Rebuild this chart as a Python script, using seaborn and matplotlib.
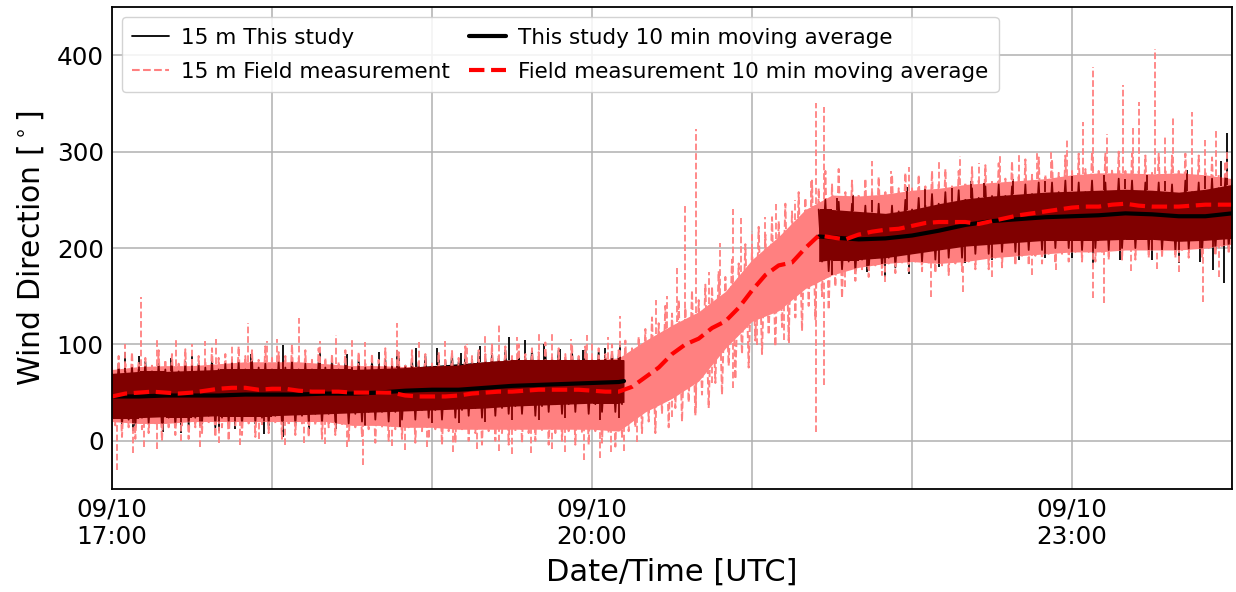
import numpy as np
import pandas as pd
import matplotlib
matplotlib.use("Agg")
import matplotlib.pyplot as plt
import seaborn as sns
from matplotlib.lines import Line2D

# ---------------- data (time in minutes after 09/10 17:00 UTC) ----------------
# 10-min moving averages
field_ma_t = list(range(0, 425, 5))
field_ma = [46, 49, 50, 51, 50, 49, 50, 52, 54, 55,
            55, 53, 54, 54, 52, 51, 51, 51, 50, 50,
            50, 50, 47, 46, 46, 46, 47, 49, 50, 51,
            51, 52, 53, 53, 53, 53, 52, 51, 51, 56,
            66, 76, 90, 100, 106, 117, 124, 138, 156, 172,
            182, 185, 200, 213, 211, 209, 214, 217, 219, 220,
            223, 226, 227, 227, 227, 225, 228, 231, 234, 236,
            238, 240, 242, 243, 243, 245, 246, 244, 243, 243,
            243, 244, 245, 245, 245]

study_t1 = [0, 10, 20, 30, 40, 50, 60, 70, 80, 90, 100, 110, 120, 130, 140,
            150, 160, 170, 180, 190, 192]
study_ma1 = [46, 46, 47, 47, 47, 48, 48, 48, 49, 49, 50, 52, 53, 53, 55,
             57, 58, 59, 60, 61, 62]
study_t2 = [265, 270, 280, 290, 300, 310, 320, 330, 340, 350, 360, 370, 380,
            390, 400, 410, 420]
study_ma2 = [212, 211, 209, 210, 213, 218, 224, 228, 230, 232, 233, 234, 236,
             235, 233, 233, 236]

# raw 15 m field measurement: dense core (every 10 min)
field_core_t = list(range(0, 425, 10))
field_core_up = [74, 77, 78, 78, 80, 82, 82, 82, 80, 78, 78, 77, 77, 78, 82,
                 84, 84, 84, 84, 86, 104, 120, 134, 155, 188, 212, 240, 255,
                 254, 256, 260, 262, 266, 268, 270, 272, 276, 278, 278, 277,
                 278, 276, 272]
field_core_lo = [20, 18, 18, 20, 20, 20, 20, 20, 20, 16, 16, 14, 14, 12, 12,
                 12, 12, 12, 12, 10, 30, 44, 62, 96, 124, 135, 158, 172, 180,
                 184, 186, 184, 186, 190, 192, 194, 196, 196, 198, 198, 198,
                 200, 204]
# raw field measurement peaks (every 2.5 min) and troughs (1.25 min later)
field_zz_t = list(np.arange(0, 420.1, 2.5))
field_peak = [76, 88, 80, 92, 82, 86, 78, 94, 84, 90,
              80, 95, 84, 88, 82, 96, 86, 90, 84, 98,
              88, 94, 84, 98, 86, 92, 88, 100, 86, 94,
              84, 96, 86, 90, 82, 94, 84, 92, 80, 90,
              84, 96, 86, 92, 80, 94, 82, 90, 80, 92,
              84, 94, 86, 98, 88, 94, 90, 100, 88, 98,
              88, 100, 90, 96, 92, 102, 88, 96, 90, 100,
              88, 98, 86, 96, 90, 100, 94, 104, 96, 108,
              116, 128, 122, 140, 132, 146, 138, 156, 146, 162,
              160, 176, 170, 188, 184, 204, 200, 222, 214, 232,
              228, 246, 238, 258, 252, 270, 262, 280, 266, 282,
              258, 270, 256, 272, 260, 274, 258, 276, 262, 278,
              262, 276, 264, 280, 266, 282, 266, 280, 268, 284,
              270, 286, 270, 288, 272, 290, 274, 292, 276, 294,
              276, 292, 278, 296, 280, 298, 282, 300, 280, 298,
              282, 300, 280, 298, 280, 296, 278, 298, 280, 296,
              280, 298, 278, 296, 278, 294, 276, 290, 274]
field_trough = [16, 4, 14, 2, 12, 8, 16, 0, 14, 6,
                16, 2, 14, 8, 18, 4, 14, 0, 16, 6,
                18, 4, 16, 8, 18, 2, 16, 6, 18, 4,
                16, 2, 14, 6, 16, 0, 14, 4, 12, -2,
                14, 0, 12, 2, 14, -2, 10, 2, 12, -4,
                10, -2, 12, 0, 8, -4, 10, 0, 8, -4,
                10, -2, 8, 0, 10, -4, 8, 0, 10, -4,
                8, -4, 10, -2, 8, -6, 4, 10, 14, 8,
                20, 8, 28, 14, 34, 20, 40, 26, 48, 34,
                60, 48, 78, 64, 90, 76, 104, 90, 110, 98,
                118, 104, 128, 114, 140, 126, 150, 136, 160, 148,
                176, 166, 178, 170, 182, 172, 184, 174, 184, 176,
                186, 176, 184, 174, 182, 172, 184, 176, 186, 178,
                188, 178, 190, 180, 192, 182, 192, 182, 192, 184,
                194, 184, 194, 186, 196, 186, 196, 186, 196, 188,
                198, 188, 198, 188, 198, 190, 200, 190, 198, 190,
                198, 190, 200, 190, 200, 192, 202, 194, 204]
# raw field measurement isolated spikes
field_spk_up_t = [5, 11, 17, 24, 30, 35, 39, 45, 51, 58, 62, 70, 78, 84, 90, 95,
                  107, 115, 125, 133, 140, 145, 152, 160, 165, 172, 178, 180, 186,
                  190.5, 204, 208, 212, 215, 219, 224, 228, 233, 236, 240, 245,
                  249, 256, 262, 264, 267, 285, 292, 299, 310, 318, 325, 333, 340,
                  347, 352, 358, 364, 368, 373, 379, 383, 385, 391, 395, 398, 405,
                  410, 414, 418]
field_spk_up_v = [100, 149, 105, 106, 100, 104, 106, 98, 122, 104, 106, 127, 104,
                  110, 106, 102, 122, 102, 104, 100, 110, 122, 108, 113, 113, 106,
                  110, 102, 108, 130, 146, 150, 179, 245, 324, 175, 205, 241, 231,
                  218, 232, 246, 250, 270, 351, 346, 290, 280, 284, 290, 295, 288,
                  295, 298, 301, 300, 312, 331, 388, 318, 369, 325, 352, 407, 315,
                  336, 341, 312, 322, 300]
field_spk_dn_t = [2, 8, 12, 17, 26, 33, 40, 48, 55, 65, 72, 80, 88, 94, 105, 110,
                  118, 128, 137, 145, 150, 157, 165, 170, 177, 183, 187, 192, 197,
                  210, 219, 225, 233, 242, 252, 254, 264, 267, 275, 290, 307, 319,
                  330, 345, 354, 368, 372, 382, 392, 400, 409, 415]
field_spk_dn_v = [-30, -13, -6, -8, 0, -6, -2, -4, 2, -4, -2, -3, -6, -25, -5, -10,
                  -6, -12, -8, -11, -14, -13, -8, -12, -20, -18, -12, -11, -1,
                  25, 34, 60, 55, 99, 105, 101, 9, 58, 160, 165, 149, 154,
                  170, 172, 177, 148, 143, 176, 178, 175, 144, 170]

# raw 15 m this study: dense core (two segments, every 10 min)
study_core_up1 = [70, 72, 72, 73, 74, 74, 74, 74, 74, 74, 75, 76, 78, 80, 82,
                  84, 84, 84, 84, 84, 84]
study_core_lo1 = [24, 24, 25, 25, 26, 26, 26, 27, 28, 29, 30, 31, 32, 33, 34,
                  36, 37, 38, 39, 39, 40]
study_core_up2 = [240, 240, 238, 236, 240, 246, 251, 254, 256, 258, 259, 260,
                  261, 260, 258, 261, 266]
study_core_lo2 = [186, 188, 188, 190, 194, 198, 202, 204, 206, 208, 208, 208,
                  209, 209, 207, 208, 210]
# raw this-study peaks (every 2.5 min) and troughs (1.25 min later)
study_zz_t1 = list(np.arange(0, 190.1, 2.5))
study_peak1 = [70, 80, 72, 78, 74, 82, 72, 80, 74, 78,
               72, 82, 74, 80, 76, 84, 74, 80, 76, 82,
               74, 84, 76, 80, 74, 82, 76, 84, 74, 80,
               74, 82, 76, 84, 74, 80, 76, 84, 76, 82,
               76, 84, 78, 86, 78, 84, 80, 88, 80, 86,
               82, 90, 82, 88, 84, 92, 84, 90, 86, 94,
               84, 92, 86, 94, 84, 92, 86, 94, 84, 92,
               86, 94, 84, 92, 86, 92, 88]
study_trough1 = [24, 16, 22, 14, 24, 18, 26, 14, 24, 16,
                 26, 16, 24, 18, 26, 14, 24, 18, 26, 16,
                 26, 18, 24, 16, 26, 18, 28, 16, 26, 20,
                 28, 18, 28, 20, 30, 18, 28, 20, 30, 22,
                 30, 20, 30, 22, 32, 22, 32, 24, 32, 22,
                 34, 24, 32, 26, 34, 24, 36, 26, 34, 28,
                 36, 28, 38, 26, 36, 30, 38, 28, 38, 30,
                 40, 28, 38, 30, 40, 30, 38]
study_zz_t2 = list(np.arange(265, 420.1, 2.5))
study_peak2 = [240, 250, 238, 248, 236, 246, 234, 244, 236, 246,
               234, 244, 238, 250, 240, 252, 244, 256, 246, 258,
               248, 260, 250, 262, 252, 264, 254, 266, 254, 264,
               254, 266, 256, 268, 256, 268, 258, 270, 256, 268,
               258, 270, 256, 268, 258, 272, 258, 270, 256, 268,
               256, 268, 254, 266, 256, 270, 258, 268, 258, 272,
               262, 274, 266]
study_trough2 = [186, 176, 188, 178, 186, 176, 188, 178, 190, 180,
                 190, 180, 194, 184, 196, 186, 198, 188, 200, 190,
                 202, 190, 204, 194, 206, 194, 206, 196, 208, 196,
                 208, 198, 210, 198, 210, 200, 212, 200, 210, 198,
                 210, 200, 212, 198, 212, 200, 210, 200, 212, 198,
                 210, 198, 210, 196, 208, 198, 210, 196, 210, 198,
                 212, 200, 212]
# raw this-study isolated spikes
study_spk_up_t = [5, 10, 22, 30, 45, 52, 64, 78, 88, 100, 107, 114, 122, 131, 138,
                  149, 155, 162, 168, 176.6, 185, 190.5,
                  272, 278, 285, 298, 305, 315, 322, 327, 338, 350, 360, 372, 380,
                  388, 395, 403, 410, 416, 418]
study_spk_up_v = [92, 88, 86, 88, 85, 90, 99, 92, 90, 92, 94, 96, 96, 91, 98,
                  108, 105, 100, 95, 94, 96, 99,
                  252, 255, 250, 263, 262, 262, 270, 268, 272, 270, 275, 276, 272,
                  276, 270, 281, 275, 290, 319]
study_spk_dn_t = [8, 19, 26, 33, 40, 46, 57, 64, 74, 84, 95, 108, 120, 130, 140,
                  150, 160, 170, 183, 190,
                  270, 283, 290, 299, 310, 320, 330, 340, 350, 360, 368, 378, 390,
                  400, 408, 413, 417]
study_spk_dn_v = [10, 9, 8, 15, 10, 12, 7, 4, 7, 12, 15, 14, 18, 18, 20,
                  22, 22, 24, 22, 24,
                  172, 175, 170, 173, 180, 185, 188, 188, 190, 190, 184, 188, 188,
                  185, 186, 177, 164]

xtick_hours = [17, 18, 19, 20, 21, 22, 23, 24]
xtick_labels = ["09/10\n17:00", "", "", "09/10\n20:00", "", "", "09/10\n23:00", ""]
ytick_vals = [0, 100, 200, 300, 400]

labels = ["15 m This study", "15 m Field measurement",
          "This study 10 min moving average",
          "Field measurement 10 min moving average"]

SALMON = "#ff8080"   # red at 50 % over white
DARKRED = "#800000"  # red at 50 % over black


def hours(t):
    return 17 + np.asarray(t, dtype=float) / 60.0


def zigzag(t, peak, trough, seg):
    """Raw series as table: each peak followed 1.25 min later by its trough."""
    t = np.asarray(t, dtype=float)
    tt = np.empty(2 * len(t))
    vv = np.empty(2 * len(t))
    tt[0::2], tt[1::2] = t, t + 1.25
    vv[0::2], vv[1::2] = peak, trough
    return pd.DataFrame({"hour": hours(tt), "dir": vv, "seg": seg})


# ---------------- figure ----------------
sns.set_style("white")
plt.rcParams["font.family"] = ["DejaVu Sans"]
for k in ["text.color", "axes.labelcolor", "xtick.color", "ytick.color"]:
    plt.rcParams[k] = "black"

fig, ax = plt.subplots(figsize=(12.36, 5.92), dpi=100)
fig.subplots_adjust(left=0.0906, right=0.9968, bottom=0.174, top=0.988)

ax.set_axisbelow(True)
ax.grid(True, color="#b0b0b0", lw=1.1)

df_sz = pd.concat([zigzag(study_zz_t1, study_peak1, study_trough1, 1),
                   zigzag(study_zz_t2, study_peak2, study_trough2, 2)])
core_s1 = (hours(study_t1), study_core_lo1, study_core_up1)
core_s2 = (hours(study_t2), study_core_lo2, study_core_up2)


def study_base(ts, env1, env2):
    ts = np.asarray(ts, dtype=float)
    return np.where(ts < 230, np.interp(ts, study_t1, env1),
                    np.interp(ts, study_t2, env2))


def draw_study(color, z):
    arts = []
    n0 = len(ax.lines)
    sns.lineplot(data=df_sz, x="hour", y="dir", units="seg", estimator=None,
                 sort=False, color=color, lw=1.3, ax=ax, zorder=z, legend=False)
    arts += ax.lines[n0:]
    for c in (core_s1, core_s2):
        arts.append(ax.fill_between(*c, color=color, lw=0, zorder=z))
    arts.append(ax.vlines(hours(study_spk_up_t),
                          study_base(study_spk_up_t, study_core_up1, study_core_up2),
                          study_spk_up_v, color=color, lw=1.3, zorder=z))
    arts.append(ax.vlines(hours(study_spk_dn_t), study_spk_dn_v,
                          study_base(study_spk_dn_t, study_core_lo1, study_core_lo2),
                          color=color, lw=1.3, zorder=z))
    return arts


# this study raw, black (visible where it leaves the field-measurement cloud)
draw_study("black", 2)

# field measurement raw
fcore = ax.fill_between(hours(field_core_t), field_core_lo, field_core_up,
                        color=SALMON, lw=0, zorder=3)
sns.lineplot(data=zigzag(field_zz_t, field_peak, field_trough, 1), x="hour", y="dir",
             estimator=None, sort=False, color=SALMON, lw=1.4, linestyle="--",
             ax=ax, zorder=3, legend=False)
ax.vlines(hours(field_spk_up_t), np.interp(field_spk_up_t, field_core_t, field_core_up),
          field_spk_up_v, color=SALMON, lw=1.3, linestyles="--", zorder=3)
ax.vlines(hours(field_spk_dn_t), field_spk_dn_v,
          np.interp(field_spk_dn_t, field_core_t, field_core_lo),
          color=SALMON, lw=1.3, linestyles="--", zorder=3)

# overlap of both raw signals (black seen through translucent red)
clip = fcore.get_paths()[0]
for a in draw_study(DARKRED, 4):
    a.set_clip_path(clip, ax.transData)

# moving averages
df_s = pd.DataFrame({"hour": np.concatenate([hours(study_t1), hours(study_t2)]),
                     "dir": study_ma1 + study_ma2,
                     "seg": [1] * len(study_t1) + [2] * len(study_t2)})
sns.lineplot(data=df_s, x="hour", y="dir", units="seg", estimator=None,
             color="black", lw=3, ax=ax, zorder=5, legend=False)
df_f = pd.DataFrame({"hour": hours(field_ma_t), "dir": field_ma})
sns.lineplot(data=df_f, x="hour", y="dir", color="red", lw=3, linestyle="--",
             ax=ax, zorder=6, legend=False)

ax.set_xlim(17, 24)
ax.set_ylim(-50, 450)
ax.set_xticks(xtick_hours)
ax.set_xticklabels(xtick_labels)
ax.set_yticks(ytick_vals)
ax.tick_params(direction="in", length=6, width=1.0, labelsize=17.7, pad=6,
               top=False, right=False)
ax.tick_params(axis="x", pad=6)
ax.set_xlabel("Date/Time [UTC]", fontsize=22, labelpad=6)
ax.set_ylabel(r"Wind Direction [$^\circ$]", fontsize=21.5, labelpad=8)
for s in ax.spines.values():
    s.set_visible(True)
    s.set_color("black")
    s.set_linewidth(1.3)
    s.set_zorder(10)

handles = [Line2D([], [], color="black", lw=1.3),
           Line2D([], [], color=SALMON, lw=1.5, ls="--"),
           Line2D([], [], color="black", lw=3),
           Line2D([], [], color="red", lw=3, ls="--")]
leg = ax.legend(handles, labels, ncol=2, loc="upper left", fontsize=15.5,
                handlelength=1.7, handletextpad=0.55, columnspacing=0.9,
                labelspacing=0.65, borderpad=0.5, borderaxespad=0.45,
                framealpha=0.85, edgecolor="#cccccc", fancybox=True)
leg.set_zorder(20)

fig.savefig("out.png", dpi=100)
